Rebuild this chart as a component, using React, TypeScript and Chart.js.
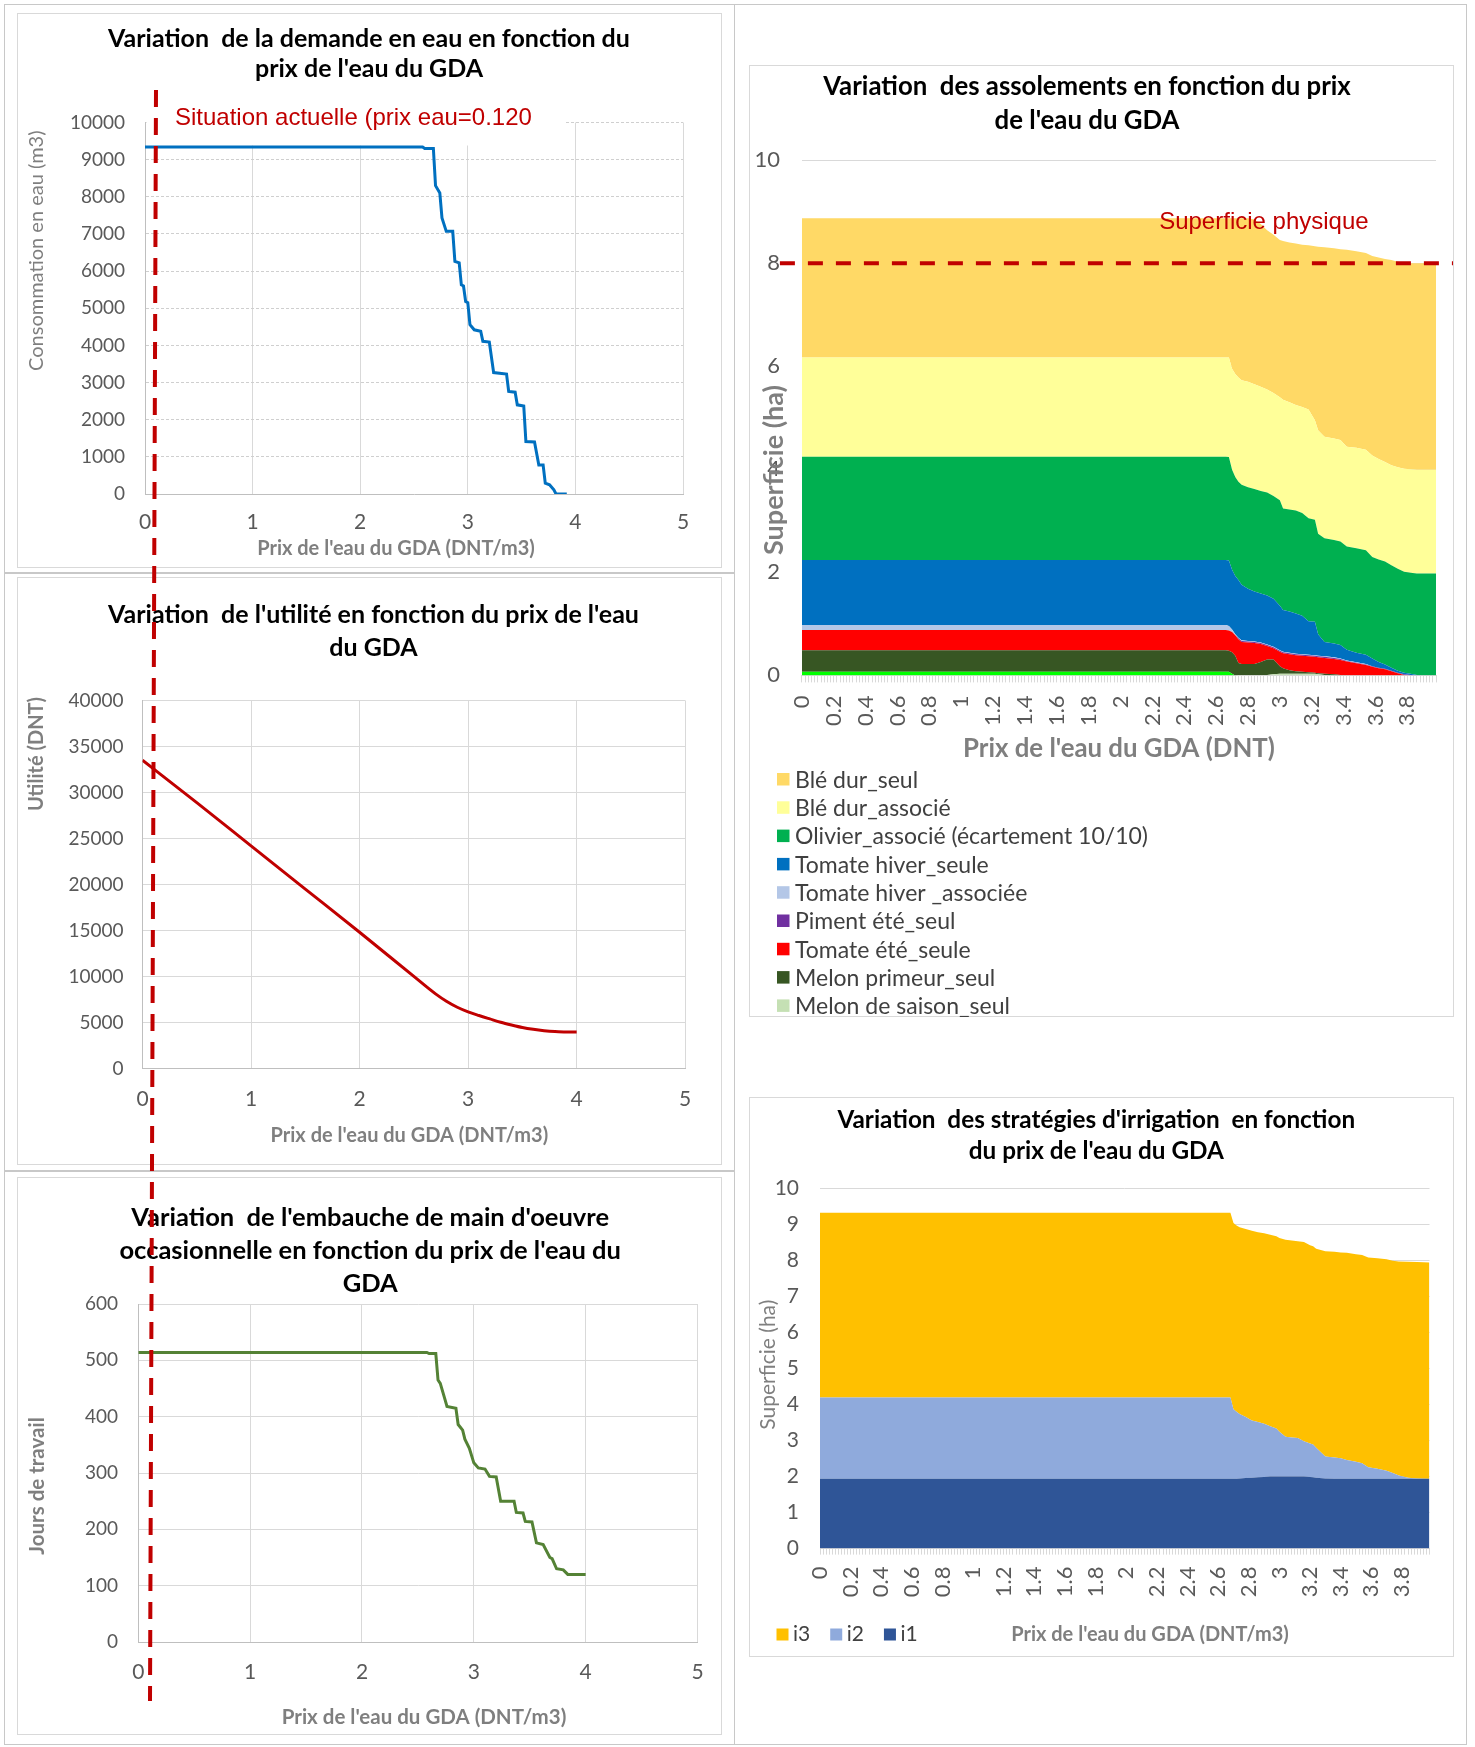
import React, { useEffect, useRef } from "react";
import { Chart, registerables } from "chart.js";

Chart.register(...registerables);

// ---------------- DATA ----------------
// Chart 1 : water demand (m3) vs GDA water price (DNT/m3)
const demandPrice = [0, 2.58, 2.6, 2.68, 2.7, 2.74, 2.76, 2.8, 2.86, 2.88, 2.92, 2.94, 2.96, 2.98, 3.0, 3.02, 3.06, 3.12, 3.14, 3.2, 3.24, 3.36, 3.38, 3.44, 3.46, 3.52, 3.54, 3.62, 3.66, 3.7, 3.72, 3.76, 3.8, 3.82, 3.92];
const demandVolume = [9340, 9340, 9300, 9300, 8300, 8100, 7430, 7070, 7070, 6260, 6220, 5630, 5600, 5180, 5150, 4560, 4420, 4380, 4110, 4090, 3270, 3230, 2760, 2740, 2400, 2370, 1410, 1400, 780, 780, 290, 250, 110, 0, 0];

// Chart 2 : utility (DNT)
const utilityPrice = [0, 0.5, 1, 1.5, 2, 2.5, 2.7, 2.8, 2.9, 3.0, 3.1, 3.2, 3.3, 3.4, 3.5, 3.6, 3.7, 3.8, 3.9, 4.0];
const utilityValue = [33500, 28900, 24200, 19500, 14800, 10000, 8100, 7300, 6650, 6150, 5750, 5380, 5020, 4720, 4450, 4250, 4100, 4000, 3950, 3950];

// Chart 3 : occasional labour (days)
const laborPrice = [0, 2.58, 2.6, 2.66, 2.68, 2.7, 2.74, 2.76, 2.84, 2.86, 2.9, 2.92, 2.96, 3.0, 3.04, 3.1, 3.14, 3.2, 3.24, 3.36, 3.38, 3.44, 3.46, 3.52, 3.56, 3.62, 3.68, 3.7, 3.74, 3.8, 3.84, 4.0];
const laborDays = [514, 514, 512, 512, 465, 459, 432, 418, 415, 386, 376, 360, 344, 318, 309, 307, 294, 293, 250, 250, 230, 229, 214, 213, 176, 173, 150, 148, 130, 128, 120, 120];

// Chart 4 : crop areas (ha), stacked
const cropPrice = [0, 2.66, 2.68, 2.70, 2.72, 2.74, 2.76, 2.80, 2.84, 2.88, 2.92, 2.96, 3.00, 3.02, 3.06, 3.10, 3.14, 3.18, 3.22, 3.24, 3.28, 3.34, 3.38, 3.42, 3.48, 3.54, 3.58, 3.62, 3.66, 3.70, 3.74, 3.78, 3.82, 3.86, 3.90, 3.98];
const baseStrip = [0.07, 0.07, 0.07, 0.03, 0, 0, 0, 0, 0, 0, 0, 0, 0, 0, 0, 0, 0, 0, 0, 0, 0, 0, 0, 0, 0, 0, 0, 0, 0, 0, 0, 0, 0, 0, 0, 0];
const melonSaison = [0, 0, 0, 0, 0, 0.01, 0.01, 0.01, 0.01, 0.01, 0.01, 0.02, 0.03, 0.03, 0.03, 0.03, 0.03, 0.03, 0.03, 0.02, 0.01, 0, 0, 0, 0, 0, 0, 0, 0, 0, 0, 0, 0, 0, 0, 0];
const melonPrimeur = [0.42, 0.42, 0.41, 0.42, 0.38, 0.23, 0.21, 0.21, 0.21, 0.25, 0.30, 0.29, 0.15, 0.11, 0.07, 0.05, 0.04, 0.03, 0.02, 0.02, 0.02, 0.02, 0.01, 0, 0, 0, 0, 0, 0, 0, 0, 0, 0, 0, 0, 0];
const tomateEte = [0.39, 0.39, 0.39, 0.39, 0.40, 0.46, 0.43, 0.42, 0.41, 0.35, 0.26, 0.215, 0.28, 0.29, 0.31, 0.31, 0.31, 0.31, 0.31, 0.31, 0.31, 0.30, 0.29, 0.27, 0.235, 0.20, 0.17, 0.14, 0.12, 0.08, 0.04, 0.01, 0, 0, 0, 0];
const pimentEte = [0, 0, 0, 0, 0, 0.02, 0.02, 0.02, 0.02, 0.02, 0.02, 0.02, 0.02, 0.02, 0.02, 0.02, 0.02, 0.02, 0.02, 0.02, 0.02, 0.02, 0.02, 0.01, 0.01, 0.01, 0.01, 0.01, 0.01, 0.01, 0.01, 0.01, 0.01, 0, 0, 0];
const tomateHiverAssoc = [0.10, 0.10, 0.09, 0.05, 0.02, 0.01, 0.01, 0.01, 0.01, 0.01, 0.01, 0.01, 0.01, 0.01, 0.01, 0.01, 0.01, 0.01, 0.01, 0.01, 0.01, 0.01, 0.01, 0.01, 0.01, 0.01, 0, 0, 0, 0, 0, 0, 0, 0, 0, 0];
const tomateHiverSeule = [1.26, 1.26, 1.27, 1.16, 1.13, 1.12, 1.08, 1.01, 0.97, 0.95, 0.95, 0.935, 0.86, 0.81, 0.80, 0.78, 0.75, 0.65, 0.65, 0.42, 0.28, 0.27, 0.26, 0.21, 0.185, 0.18, 0.15, 0.11, 0.08, 0.06, 0.04, 0.03, 0.02, 0.01, 0, 0];
const olivierAssoc = [2.005, 2.005, 2.01, 1.94, 1.92, 1.91, 1.94, 1.97, 1.99, 1.99, 2.00, 1.99, 2.05, 1.97, 1.98, 2.00, 1.99, 2.00, 1.98, 1.95, 2.01, 2.01, 2.01, 2.00, 2.03, 2.03, 1.97, 1.99, 2.00, 1.99, 1.98, 1.96, 1.96, 1.97, 1.98, 1.98];
const bleDurAssoc = [1.925, 1.925, 1.93, 1.96, 2.00, 2.02, 2.03, 2.05, 2.03, 2.02, 2.00, 2.00, 2.00, 2.11, 2.08, 2.05, 2.06, 2.11, 1.93, 2.01, 1.97, 1.97, 1.97, 1.94, 1.95, 1.95, 1.97, 1.95, 1.93, 1.94, 1.97, 2.00, 2.01, 2.01, 2.01, 2.01];
const bleDurSeul = [2.70, 2.70, 2.70, 2.92, 3.02, 3.09, 3.14, 3.17, 3.20, 3.16, 3.09, 3.07, 3.05, 3.08, 3.10, 3.13, 3.15, 3.19, 3.38, 3.56, 3.68, 3.69, 3.70, 3.82, 3.81, 3.82, 3.87, 3.91, 3.94, 3.98, 3.99, 4.00, 4.00, 4.01, 4.01, 4.01];
const physicalArea = 8;

// Chart 5 : irrigation strategies (ha), stacked
const irrigPrice = [0, 2.66, 2.68, 2.70, 2.72, 2.74, 2.78, 2.82, 2.86, 2.90, 2.94, 2.98, 3.00, 3.04, 3.08, 3.12, 3.16, 3.20, 3.22, 3.24, 3.30, 3.36, 3.40, 3.44, 3.50, 3.54, 3.58, 3.64, 3.70, 3.74, 3.78, 3.84, 3.90, 3.98];
const irrigI1 = [1.94, 1.94, 1.94, 1.94, 1.94, 1.95, 1.96, 1.97, 1.98, 1.99, 2.0, 2.0, 2.0, 2.0, 2.0, 2.0, 2.0, 1.99, 1.98, 1.97, 1.95, 1.94, 1.94, 1.94, 1.94, 1.94, 1.94, 1.94, 1.94, 1.94, 1.94, 1.94, 1.94, 1.94];
const irrigI2 = [2.26, 2.26, 2.26, 1.93, 1.86, 1.79, 1.70, 1.59, 1.54, 1.48, 1.40, 1.34, 1.25, 1.11, 1.09, 1.07, 0.98, 0.93, 0.91, 0.83, 0.61, 0.59, 0.57, 0.52, 0.47, 0.43, 0.32, 0.28, 0.22, 0.16, 0.09, 0.03, 0.01, 0];
const irrigI3 = [5.13, 5.13, 5.13, 5.18, 5.18, 5.19, 5.22, 5.27, 5.27, 5.29, 5.32, 5.34, 5.38, 5.47, 5.47, 5.47, 5.54, 5.51, 5.51, 5.53, 5.70, 5.72, 5.72, 5.76, 5.77, 5.79, 5.83, 5.85, 5.88, 5.90, 5.95, 6.00, 6.01, 6.01];

// ---------------- STYLE ----------------
const LATO = 'Lato, "Open Sans", sans-serif';
const ARIAL = '"Liberation Sans", Arial, sans-serif';
const GRID = "#d9d9d9";
const AXIS = "#bfbfbf";
const TICK = "#595959";
const AXT = "#7f7f7f";
const RED = "#C00000";

const pts = (xs: number[], ys: number[]) => xs.map((x, i) => ({ x, y: ys[i] }));

function baseOptions(extra: any) {
  return { responsive: false, animation: false, events: [], ...extra };
}

function titleCfg(text: string[], size: number, lh: number, pt: number, pb: number) {
  return {
    display: true,
    text,
    color: "#000000",
    font: { family: LATO, weight: "bold", size, lineHeight: lh + "px" },
    padding: { top: pt, bottom: pb },
  };
}

type Txt = { text: string; x: number; y: number; size: number; bold?: boolean; color: string; rotate?: boolean };

function textPlugin(id: string, items: Txt[]) {
  return {
    id,
    afterDraw(chart: any) {
      const { ctx } = chart;
      items.forEach((t) => {
        ctx.save();
        ctx.font = `${t.bold ? "bold " : ""}${t.size}px ${LATO}`;
        ctx.fillStyle = t.color;
        ctx.textAlign = "center";
        ctx.textBaseline = "middle";
        ctx.translate(t.x, t.y);
        if (t.rotate) ctx.rotate(-Math.PI / 2);
        ctx.fillText(t.text, 0, 0);
        ctx.restore();
      });
    },
  };
}

const noPad = (s: any) => {
  s.paddingLeft = 0;
  s.paddingRight = 0;
};

function priceAxis(height: number, tickPad: number) {
  return {
    type: "linear",
    min: 0,
    max: 5,
    ticks: { stepSize: 1, padding: tickPad, color: TICK, font: { family: LATO, size: 21 } },
    grid: { color: GRID, drawTicks: false },
    border: { color: AXIS },
    afterFit: (s: any) => {
      s.height = height;
      noPad(s);
    },
  };
}

function valueAxis(max: number, step: number, width: number, pad: number, extra: any = {}) {
  return {
    type: "linear",
    min: 0,
    max,
    ticks: { stepSize: step, padding: pad, color: TICK, font: { family: LATO, size: 19 }, callback: (v: number) => String(v) },
    grid: { color: GRID, drawTicks: false },
    border: { color: AXIS },
    afterFit: (s: any) => {
      s.width = width;
    },
    ...extra,
  };
}

// ---------------- PLUGINS ----------------
const currentPriceNote = {
  id: "currentPriceNote",
  beforeDatasetsDraw(chart: any) {
    const { ctx, chartArea } = chart;
    ctx.save();
    ctx.fillStyle = "#ffffff";
    ctx.fillRect(chartArea.left + 1.5, chartArea.top - 23, 418, 46);
    ctx.restore();
  },
  afterDatasetsDraw(chart: any) {
    const { ctx, chartArea } = chart;
    ctx.save();
    ctx.font = `24px ${ARIAL}`;
    ctx.fillStyle = RED;
    ctx.textBaseline = "middle";
    ctx.fillText("Situation actuelle (prix eau=0.120", chartArea.left + 30, chartArea.top - 4.5);
    ctx.restore();
  },
};

const physicalLine = {
  id: "physicalLine",
  afterDatasetsDraw(chart: any) {
    const { ctx, chartArea, scales } = chart;
    const y = scales.y.getPixelForValue(physicalArea);
    ctx.save();
    ctx.strokeStyle = RED;
    ctx.lineWidth = 4;
    ctx.setLineDash([15, 13]);
    ctx.beginPath();
    ctx.moveTo(chartArea.left - 22, y);
    ctx.lineTo(chartArea.right + 17, y);
    ctx.stroke();
    ctx.setLineDash([]);
    ctx.font = `24px ${ARIAL}`;
    ctx.fillStyle = RED;
    ctx.textAlign = "center";
    ctx.textBaseline = "middle";
    ctx.fillText("Superficie physique", chartArea.left + 462, chartArea.top + 62);
    ctx.restore();
  },
};

const cropLegend = {
  id: "cropLegend",
  afterDraw(chart: any) {
    const { ctx } = chart;
    const items = chart.data.datasets.filter((d: any) => d.label).slice().reverse();
    ctx.save();
    ctx.font = `23px ${LATO}`;
    ctx.textBaseline = "middle";
    items.forEach((d: any, i: number) => {
      const y = 714.3 + i * 28.3;
      ctx.fillStyle = d.backgroundColor;
      ctx.fillRect(57, y - 6.3, 12.5, 12.5);
      ctx.fillStyle = "#404040";
      ctx.fillText(d.label, 75, y + 1);
    });
    ctx.restore();
  },
};

const irrigLegend = {
  id: "irrigLegend",
  afterDraw(chart: any) {
    const { ctx } = chart;
    const items = chart.data.datasets.slice().reverse();
    ctx.save();
    ctx.font = `21px ${LATO}`;
    ctx.textBaseline = "middle";
    let x = 38.5;
    const y = 537.5;
    items.forEach((d: any) => {
      ctx.fillStyle = d.backgroundColor;
      ctx.fillRect(x, y - 6, 12, 12);
      ctx.fillStyle = "#404040";
      ctx.fillText(d.label, x + 16.5, y);
      x += 16.5 + ctx.measureText(d.label).width + 20;
    });
    ctx.restore();
  },
};

// ---------------- CONFIGS ----------------
function demandConfig() {
  return {
    type: "line",
    data: {
      datasets: [
        { data: pts(demandPrice, demandVolume), borderColor: "#0070C0", borderWidth: 3, pointRadius: 0, fill: false, tension: 0 },
      ],
    },
    options: baseOptions({
      layout: { padding: { left: 38, right: 39, top: 0, bottom: 0 } },
      plugins: {
        legend: { display: false },
        tooltip: { enabled: false },
        title: titleCfg(["Variation  de la demande en eau en fonction du", "prix de l'eau du GDA"], 25, 30, 11, 38.5),
      },
      scales: {
        x: priceAxis(74, 15.4),
        y: valueAxis(10000, 1000, 90, 20, { grid: { color: "#cfcfcf", drawTicks: false }, border: { color: AXIS, dash: [3, 2] } }),
      },
    }),
    plugins: [
      currentPriceNote,
      textPlugin("axisTitles1", [
        { text: "Prix de l'eau du GDA (DNT/m3)", x: 379, y: 536, size: 20, bold: true, color: AXT },
        { text: "Consommation en eau (m3)", x: 20, y: 237.7, size: 20, color: AXT, rotate: true },
      ]),
    ],
  };
}

function utilityConfig() {
  return {
    type: "line",
    data: {
      datasets: [
        { data: pts(utilityPrice, utilityValue), borderColor: "#C00000", borderWidth: 3, pointRadius: 0, fill: false, cubicInterpolationMode: "monotone" },
      ],
    },
    options: baseOptions({
      layout: { padding: { left: 44.8, right: 36.8, top: 0, bottom: 0 } },
      plugins: {
        legend: { display: false },
        tooltip: { enabled: false },
        title: titleCfg(["Variation  de l'utilité en fonction du prix de l'eau", "du GDA"], 25, 33, 21.7, 35.8),
      },
      scales: {
        x: priceAxis(96.6, 18.6),
        y: valueAxis(40000, 5000, 80.7, 19),
      },
    }),
    plugins: [
      textPlugin("axisTitles2", [
        { text: "Prix de l'eau du GDA (DNT/m3)", x: 392.4, y: 559, size: 20, bold: true, color: AXT },
        { text: "Utilité (DNT)", x: 20, y: 177, size: 20, bold: true, color: AXT, rotate: true },
      ]),
    ],
  };
}

function laborConfig() {
  return {
    type: "line",
    data: {
      datasets: [
        { data: pts(laborPrice, laborDays), borderColor: "#548235", borderWidth: 3, pointRadius: 0, fill: false, tension: 0 },
      ],
    },
    options: baseOptions({
      layout: { padding: { left: 25.9, right: 24.5, top: 0, bottom: 0 } },
      plugins: {
        legend: { display: false },
        tooltip: { enabled: false },
        title: titleCfg(
          ["Variation  de l'embauche de main d'oeuvre", "occasionnelle en fonction du prix de l'eau du", "GDA"],
          25.5,
          33,
          24,
          4
        ),
      },
      scales: {
        x: priceAxis(93, 17.4),
        y: valueAxis(600, 100, 95.4, 20.3),
      },
    }),
    plugins: [
      textPlugin("axisTitles3", [
        { text: "Prix de l'eau du GDA (DNT/m3)", x: 407, y: 540, size: 20.5, bold: true, color: AXT },
        { text: "Jours de travail", x: 20, y: 309, size: 20.5, bold: true, color: AXT, rotate: true },
      ]),
    ],
  };
}

function categoryPriceAxis(height: number, tickLen: number, pad: number, title: any) {
  return {
    type: "linear",
    min: 0,
    max: 3.98,
    ticks: {
      stepSize: 0.02,
      autoSkip: false,
      minRotation: 90,
      maxRotation: 90,
      padding: pad,
      color: TICK,
      font: { family: LATO, size: 22 },
      callback: (v: number, i: number) => (i % 10 === 0 ? String(Math.round(v * 10) / 10) : ""),
    },
    grid: { drawOnChartArea: false, drawTicks: true, tickLength: tickLen, color: GRID },
    border: { display: true, color: GRID },
    title,
    afterFit: (s: any) => {
      s.height = height;
      noPad(s);
    },
  };
}

function cropConfig() {
  const series: [string, number[], string][] = [
    ["", baseStrip, "#00FF00"],
    ["Melon de saison_seul", melonSaison, "#C5E0B4"],
    ["Melon primeur_seul", melonPrimeur, "#375623"],
    ["Tomate été_seule", tomateEte, "#FF0000"],
    ["Piment été_seul", pimentEte, "#7030A0"],
    ["Tomate hiver _associée", tomateHiverAssoc, "#B4C7E7"],
    ["Tomate hiver_seule", tomateHiverSeule, "#0070C0"],
    ["Olivier_associé (écartement 10/10)", olivierAssoc, "#00B050"],
    ["Blé dur_associé", bleDurAssoc, "#FFFF99"],
    ["Blé dur_seul", bleDurSeul, "#FFD966"],
  ];
  return {
    type: "line",
    data: {
      datasets: series.map(([label, vals, color], i) => ({
        label,
        data: pts(cropPrice, vals),
        backgroundColor: color,
        borderColor: "rgba(0,0,0,0)",
        borderWidth: 0,
        pointRadius: 0,
        fill: i === 0 ? "origin" : "-1",
        tension: 0,
        stack: "crops",
      })),
    },
    options: baseOptions({
      layout: { padding: { left: 18, right: 18, top: 0, bottom: 252 } },
      plugins: {
        legend: { display: false },
        tooltip: { enabled: false },
        title: titleCfg(["Variation  des assolements en fonction du prix", "de l'eau du GDA"], 25.8, 33.5, 5.15, 23),
      },
      scales: {
        x: categoryPriceAxis(89.6, 7, 13, {
          display: true,
          text: "Prix de l'eau du GDA (DNT)",
          color: AXT,
          font: { family: LATO, weight: "bold", size: 25.8 },
          padding: { top: 0, bottom: 0.5 },
        }),
        y: {
          type: "linear",
          stacked: true,
          min: 0,
          max: 10,
          ticks: { stepSize: 2, padding: 22, color: TICK, font: { family: LATO, size: 22 } },
          grid: { color: GRID, drawTicks: false },
          border: { display: false },
          afterFit: (s: any) => {
            s.width = 63.9;
          },
        },
      },
    }),
    plugins: [
      physicalLine,
      cropLegend,
      textPlugin("axisTitles4", [{ text: "Superficie (ha)", x: 54, y: 405, size: 27, bold: true, color: AXT, rotate: true }]),
    ],
  };
}

function irrigConfig() {
  const series: [string, number[], string][] = [
    ["i1", irrigI1, "#2F5597"],
    ["i2", irrigI2, "#8FAADC"],
    ["i3", irrigI3, "#FFC000"],
  ];
  return {
    type: "line",
    data: {
      datasets: series.map(([label, vals, color], i) => ({
        label,
        data: pts(irrigPrice, vals),
        backgroundColor: color,
        borderColor: "rgba(0,0,0,0)",
        borderWidth: 0,
        pointRadius: 0,
        fill: i === 0 ? "origin" : "-1",
        tension: 0,
        stack: "irrig",
      })),
    },
    options: baseOptions({
      layout: { padding: { left: 25.1, right: 24.5, top: 0, bottom: 0 } },
      plugins: {
        legend: { display: false },
        tooltip: { enabled: false },
        title: titleCfg(["Variation  des stratégies d'irrigation  en fonction", "du prix de l'eau du GDA"], 24.3, 30.6, 8.3, 22.2),
      },
      scales: {
        x: categoryPriceAxis(108.4, 6, 12, { display: false }),
        y: {
          type: "linear",
          stacked: true,
          min: 0,
          max: 10,
          ticks: { stepSize: 1, padding: 21, color: TICK, font: { family: LATO, size: 21 } },
          grid: { color: GRID, drawTicks: false },
          border: { display: false },
          afterFit: (s: any) => {
            s.width = 56.9;
          },
        },
      },
    }),
    plugins: [
      irrigLegend,
      textPlugin("axisTitles5", [
        { text: "Prix de l'eau du GDA (DNT/m3)", x: 412, y: 537.5, size: 20, bold: true, color: AXT },
        { text: "Superficie (ha)", x: 30.7, y: 267.7, size: 21, color: AXT, rotate: true },
      ]),
    ],
  };
}

// ---------------- COMPONENTS ----------------
type Rect = { left: number; top: number; width: number; height: number };

function ChartCanvas({ rect, make }: { rect: Rect; make: () => any }) {
  const ref = useRef<HTMLCanvasElement | null>(null);
  useEffect(() => {
    if (!ref.current) return;
    const chart = new Chart(ref.current, make());
    return () => chart.destroy();
  }, []);
  return (
    <canvas
      ref={ref}
      width={rect.width}
      height={rect.height}
      style={{ position: "absolute", left: rect.left, top: rect.top, width: rect.width, height: rect.height }}
    />
  );
}

function Frame({ rect }: { rect: Rect }) {
  return (
    <div
      style={{
        position: "absolute",
        left: rect.left,
        top: rect.top,
        width: rect.width,
        height: rect.height,
        border: "1px solid #d9d9d9",
        boxSizing: "border-box",
        background: "#fff",
      }}
    />
  );
}

function Rule({ left, top, width, height }: Rect) {
  return <div style={{ position: "absolute", left, top, width, height, background: "#c8c8c8" }} />;
}

export default function App() {
  return (
    <div style={{ position: "absolute", left: 0, top: 0, width: 1475, height: 1747, background: "#ffffff", overflow: "hidden" }}>
      <div style={{ position: "absolute", left: 4, top: 4, width: 1463, height: 1741, border: "1px solid #c8c8c8", boxSizing: "border-box" }} />
      <Rule left={734} top={4} width={1} height={1741} />
      <Rule left={4} top={572} width={730} height={2} />
      <Rule left={4} top={1170} width={730} height={2} />

      <Frame rect={{ left: 17, top: 13, width: 705, height: 555 }} />
      <Frame rect={{ left: 17, top: 577, width: 705, height: 588 }} />
      <Frame rect={{ left: 17, top: 1177, width: 705, height: 558 }} />
      <Frame rect={{ left: 749, top: 65, width: 705, height: 952 }} />
      <Frame rect={{ left: 749, top: 1097, width: 705, height: 560 }} />

      <ChartCanvas rect={{ left: 17, top: 13, width: 705, height: 555 }} make={demandConfig} />
      <ChartCanvas rect={{ left: 17, top: 577, width: 705, height: 588 }} make={utilityConfig} />
      <ChartCanvas rect={{ left: 17, top: 1177, width: 705, height: 558 }} make={laborConfig} />
      <ChartCanvas rect={{ left: 720, top: 65, width: 734, height: 952 }} make={cropConfig} />
      <ChartCanvas rect={{ left: 738, top: 1097, width: 716, height: 560 }} make={irrigConfig} />

      <svg width={1475} height={1747} style={{ position: "absolute", left: 0, top: 0, pointerEvents: "none" }}>
        <line x1={156} y1={90} x2={150} y2={1701} stroke={RED} strokeWidth={4} strokeDasharray="17 11" />
      </svg>
    </div>
  );
}
